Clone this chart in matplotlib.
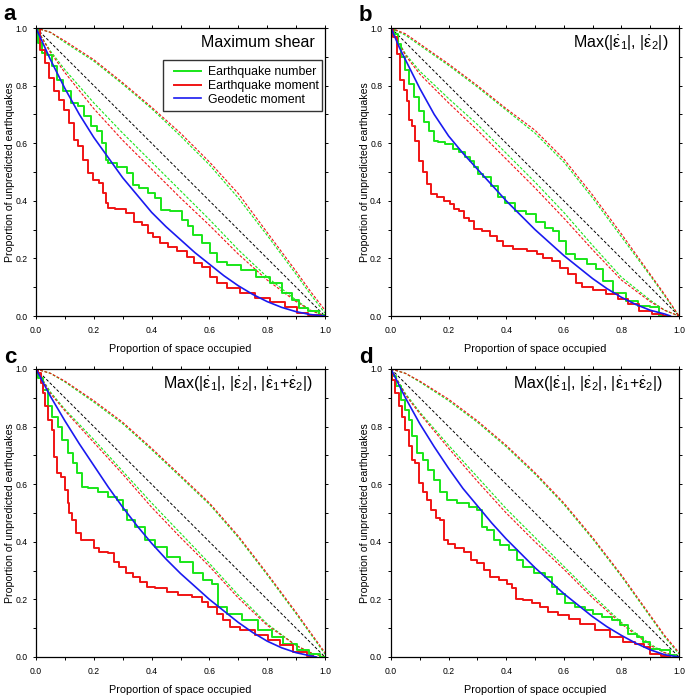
import matplotlib
matplotlib.use("Agg")
import matplotlib.pyplot as plt
from matplotlib.ticker import MultipleLocator
from matplotlib.patches import Rectangle

plt.rcParams['font.family'] = ['Liberation Sans', 'DejaVu Sans']
plt.rcParams['mathtext.fontset'] = 'custom'
plt.rcParams['mathtext.rm'] = 'Liberation Sans'
plt.rcParams['mathtext.it'] = 'Liberation Sans'

# ---- data ----
panel_letters = ["a", "b", "c", "d"]
e1 = r"$\dot{\varepsilon}_1$"
e2 = r"$\dot{\varepsilon}_2$"
panel_titles = ["Maximum shear",
                "Max(|" + e1 + "|, |" + e2 + "|)",
                "Max(|" + e1 + "|, |" + e2 + "|, |" + e1 + "+" + e2 + "|)",
                "Max(|" + e1 + "|, |" + e2 + "|, |" + e1 + "+" + e2 + "|)"]
legend_labels = ["Earthquake number", "Earthquake moment", "Geodetic moment"]

# panel a
a_mom_x = [0, 0.025, 0.037, 0.054, 0.072, 0.089, 0.106, 0.123, 0.141, 0.152, 0.170, 0.187, 0.210, 0.227, 0.239, 0.245, 0.256, 0.291, 0.331, 0.348, 0.383, 0.394, 0.417, 0.441, 0.475, 0.504, 0.539, 0.556, 0.590, 0.614, 0.637, 0.683, 0.729, 0.787, 0.833, 0.890, 0.913, 0.971, 1.0]
a_mom_y = [1, 0.925, 0.878, 0.826, 0.780, 0.751, 0.716, 0.670, 0.612, 0.589, 0.543, 0.497, 0.473, 0.461, 0.427, 0.392, 0.374, 0.371, 0.357, 0.328, 0.316, 0.287, 0.276, 0.252, 0.241, 0.224, 0.206, 0.183, 0.171, 0.137, 0.114, 0.096, 0.081, 0.064, 0.050, 0.032, 0.009, 0.003, 0.0]
a_num_x = [0, 0.014, 0.025, 0.048, 0.060, 0.083, 0.106, 0.135, 0.158, 0.175, 0.204, 0.221, 0.239, 0.245, 0.256, 0.302, 0.331, 0.337, 0.377, 0.400, 0.423, 0.441, 0.487, 0.521, 0.533, 0.556, 0.590, 0.614, 0.637, 0.683, 0.735, 0.787, 0.833, 0.867, 0.902, 0.919, 0.960, 1.0]
a_num_y = [1, 0.948, 0.913, 0.907, 0.867, 0.820, 0.780, 0.739, 0.728, 0.693, 0.658, 0.641, 0.600, 0.542, 0.531, 0.519, 0.496, 0.455, 0.444, 0.426, 0.409, 0.368, 0.363, 0.334, 0.311, 0.282, 0.253, 0.218, 0.189, 0.177, 0.160, 0.137, 0.114, 0.079, 0.056, 0.027, 0.019, 0.003]
a_geo_x = [0, 0.05, 0.1, 0.15, 0.2, 0.25, 0.3, 0.35, 0.4, 0.45, 0.5, 0.55, 0.6, 0.65, 0.7, 0.75, 0.8, 0.85, 0.9, 0.95, 1.0]
a_geo_y = [1, 0.89, 0.79, 0.70, 0.62, 0.55, 0.48, 0.42, 0.36, 0.31, 0.265, 0.22, 0.18, 0.14, 0.105, 0.075, 0.05, 0.03, 0.015, 0.005, 0.0]

# panel b
b_mom_x = [0, 0.015, 0.027, 0.038, 0.050, 0.061, 0.067, 0.079, 0.090, 0.102, 0.119, 0.130, 0.148, 0.171, 0.194, 0.217, 0.223, 0.246, 0.258, 0.281, 0.298, 0.333, 0.356, 0.379, 0.402, 0.448, 0.494, 0.517, 0.540, 0.575, 0.598, 0.633, 0.650, 0.679, 0.725, 0.771, 0.806, 0.841, 0.881, 0.933, 0.956]
b_mom_y = [1, 0.969, 0.911, 0.818, 0.783, 0.748, 0.679, 0.661, 0.609, 0.539, 0.499, 0.458, 0.423, 0.412, 0.400, 0.389, 0.371, 0.365, 0.342, 0.331, 0.302, 0.296, 0.278, 0.261, 0.244, 0.232, 0.226, 0.215, 0.203, 0.191, 0.168, 0.145, 0.116, 0.099, 0.089, 0.075, 0.058, 0.041, 0.017, 0.006, 0.0]
b_num_x = [0, 0.021, 0.027, 0.044, 0.055, 0.073, 0.090, 0.107, 0.125, 0.142, 0.154, 0.171, 0.206, 0.223, 0.252, 0.263, 0.286, 0.292, 0.309, 0.333, 0.361, 0.379, 0.413, 0.448, 0.488, 0.517, 0.552, 0.575, 0.592, 0.621, 0.656, 0.702, 0.725, 0.748, 0.794, 0.841, 0.875, 0.921, 0.939, 0.96]
b_num_y = [1, 0.980, 0.945, 0.899, 0.853, 0.806, 0.760, 0.713, 0.673, 0.644, 0.609, 0.603, 0.597, 0.580, 0.568, 0.551, 0.539, 0.516, 0.493, 0.481, 0.452, 0.412, 0.394, 0.365, 0.354, 0.325, 0.307, 0.296, 0.261, 0.215, 0.197, 0.180, 0.162, 0.122, 0.081, 0.052, 0.035, 0.031, 0.0, 0.0]
b_geo_x = [0, 0.03, 0.06, 0.1, 0.15, 0.2, 0.25, 0.3, 0.35, 0.4, 0.45, 0.5, 0.55, 0.6, 0.65, 0.7, 0.75, 0.8, 0.85, 0.9, 0.95, 0.97]
b_geo_y = [1, 0.93, 0.87, 0.79, 0.70, 0.625, 0.565, 0.51, 0.455, 0.40, 0.35, 0.30, 0.255, 0.21, 0.17, 0.13, 0.095, 0.065, 0.04, 0.02, 0.007, 0.0]

# panel c
c_mom_x = [0, 0.014, 0.020, 0.025, 0.037, 0.048, 0.060, 0.066, 0.077, 0.095, 0.106, 0.112, 0.118, 0.129, 0.146, 0.164, 0.198, 0.204, 0.233, 0.268, 0.273, 0.302, 0.320, 0.348, 0.371, 0.394, 0.429, 0.475, 0.510, 0.567, 0.579, 0.614, 0.637, 0.660, 0.683, 0.729, 0.787, 0.821, 0.867, 0.913, 0.960]
c_mom_y = [1, 0.986, 0.951, 0.916, 0.870, 0.824, 0.789, 0.696, 0.638, 0.626, 0.580, 0.534, 0.499, 0.476, 0.429, 0.406, 0.406, 0.377, 0.365, 0.360, 0.330, 0.313, 0.290, 0.278, 0.261, 0.244, 0.238, 0.226, 0.215, 0.209, 0.191, 0.174, 0.151, 0.128, 0.104, 0.093, 0.075, 0.058, 0.041, 0.017, 0.002]
c_num_x = [0, 0.014, 0.037, 0.048, 0.066, 0.083, 0.100, 0.118, 0.135, 0.152, 0.164, 0.198, 0.233, 0.268, 0.291, 0.308, 0.325, 0.360, 0.394, 0.429, 0.475, 0.521, 0.567, 0.590, 0.625, 0.637, 0.683, 0.740, 0.798, 0.833, 0.879, 0.925, 0.965, 1.0]
c_num_y = [1, 0.969, 0.928, 0.870, 0.835, 0.800, 0.754, 0.708, 0.673, 0.638, 0.592, 0.586, 0.574, 0.557, 0.545, 0.510, 0.475, 0.452, 0.406, 0.383, 0.348, 0.330, 0.290, 0.267, 0.255, 0.174, 0.151, 0.128, 0.093, 0.070, 0.046, 0.023, 0.012, 0.0]
c_geo_x = [0, 0.05, 0.1, 0.15, 0.2, 0.25, 0.3, 0.35, 0.4, 0.45, 0.5, 0.55, 0.6, 0.65, 0.7, 0.75, 0.8, 0.85, 0.9, 0.95, 0.97]
c_geo_y = [1, 0.905, 0.82, 0.74, 0.665, 0.59, 0.52, 0.455, 0.395, 0.34, 0.29, 0.245, 0.20, 0.16, 0.12, 0.085, 0.055, 0.032, 0.015, 0.004, 0.0]

# panel d
d_mom_x = [0, 0.009, 0.021, 0.032, 0.044, 0.055, 0.067, 0.079, 0.090, 0.102, 0.119, 0.131, 0.148, 0.165, 0.177, 0.188, 0.206, 0.235, 0.269, 0.287, 0.310, 0.333, 0.356, 0.391, 0.414, 0.425, 0.443, 0.472, 0.506, 0.529, 0.564, 0.599, 0.634, 0.680, 0.738, 0.784, 0.830, 0.865, 0.894, 0.905, 0.969]
d_mom_y = [1, 0.963, 0.916, 0.870, 0.835, 0.789, 0.731, 0.684, 0.673, 0.603, 0.574, 0.545, 0.510, 0.481, 0.476, 0.406, 0.394, 0.377, 0.365, 0.336, 0.325, 0.302, 0.278, 0.267, 0.255, 0.238, 0.203, 0.197, 0.186, 0.174, 0.157, 0.145, 0.133, 0.116, 0.093, 0.070, 0.052, 0.044, 0.035, 0.012, 0.002]
d_num_x = [0, 0.009, 0.027, 0.044, 0.055, 0.067, 0.079, 0.102, 0.119, 0.136, 0.160, 0.183, 0.206, 0.252, 0.287, 0.310, 0.321, 0.345, 0.368, 0.391, 0.425, 0.448, 0.472, 0.518, 0.552, 0.564, 0.587, 0.622, 0.657, 0.691, 0.714, 0.749, 0.784, 0.807, 0.842, 0.865, 0.888, 0.911, 0.957, 0.980, 1.0]
d_num_y = [1, 0.974, 0.940, 0.893, 0.858, 0.824, 0.766, 0.708, 0.684, 0.650, 0.615, 0.574, 0.545, 0.534, 0.522, 0.510, 0.452, 0.440, 0.406, 0.388, 0.371, 0.336, 0.313, 0.290, 0.278, 0.244, 0.220, 0.186, 0.174, 0.162, 0.151, 0.139, 0.128, 0.110, 0.081, 0.070, 0.052, 0.029, 0.023, 0.006, 0.0]
d_geo_x = [0, 0.05, 0.1, 0.15, 0.2, 0.25, 0.3, 0.35, 0.4, 0.45, 0.5, 0.55, 0.6, 0.65, 0.7, 0.75, 0.8, 0.85, 0.9, 0.95, 1.0]
d_geo_y = [1, 0.90, 0.81, 0.73, 0.655, 0.585, 0.525, 0.465, 0.41, 0.36, 0.31, 0.265, 0.22, 0.18, 0.14, 0.105, 0.075, 0.048, 0.025, 0.008, 0.0]

# dashed reference curves (upper / lower, green = number, red = moment)
dash_x = [0, 0.05, 0.1, 0.2, 0.3, 0.4, 0.5, 0.6, 0.7, 0.8, 0.9, 0.95, 1.0]
a_up_g = [1, 0.985, 0.95, 0.885, 0.805, 0.72, 0.625, 0.525, 0.41, 0.28, 0.145, 0.075, 0.01]
a_up_r = [1, 0.985, 0.955, 0.89, 0.81, 0.725, 0.635, 0.535, 0.425, 0.29, 0.155, 0.085, 0.02]
a_lo_g = [1, 0.92, 0.855, 0.74, 0.635, 0.535, 0.435, 0.335, 0.23, 0.135, 0.055, 0.02, 0.0]
a_lo_r = [1, 0.915, 0.845, 0.72, 0.61, 0.51, 0.41, 0.315, 0.215, 0.125, 0.05, 0.02, 0.0]
b_up_g = [1, 0.975, 0.94, 0.87, 0.795, 0.715, 0.635, 0.535, 0.41, 0.275, 0.14, 0.07, 0.0]
b_up_r = [1, 0.98, 0.945, 0.875, 0.8, 0.72, 0.645, 0.545, 0.42, 0.285, 0.145, 0.075, 0.0]
b_lo_g = [1, 0.91, 0.85, 0.755, 0.665, 0.565, 0.465, 0.36, 0.245, 0.135, 0.055, 0.02, 0.0]
b_lo_r = [1, 0.905, 0.84, 0.74, 0.645, 0.545, 0.445, 0.34, 0.23, 0.125, 0.05, 0.02, 0.0]
c_up_g = [1, 0.985, 0.955, 0.885, 0.81, 0.72, 0.625, 0.53, 0.415, 0.285, 0.15, 0.08, 0.01]
c_up_r = [1, 0.985, 0.958, 0.89, 0.815, 0.725, 0.63, 0.535, 0.42, 0.29, 0.155, 0.085, 0.015]
c_lo_g = [1, 0.92, 0.86, 0.755, 0.645, 0.535, 0.43, 0.325, 0.215, 0.115, 0.04, 0.015, 0.0]
c_lo_r = [1, 0.915, 0.855, 0.745, 0.635, 0.52, 0.415, 0.315, 0.205, 0.11, 0.04, 0.015, 0.0]
d_up_g = [1, 0.985, 0.955, 0.89, 0.815, 0.73, 0.635, 0.53, 0.41, 0.28, 0.14, 0.07, 0.01]
d_up_r = [1, 0.985, 0.958, 0.895, 0.82, 0.735, 0.64, 0.535, 0.415, 0.285, 0.145, 0.075, 0.015]
d_lo_g = [1, 0.915, 0.85, 0.735, 0.625, 0.515, 0.415, 0.315, 0.215, 0.12, 0.045, 0.015, 0.0]
d_lo_r = [1, 0.91, 0.845, 0.725, 0.61, 0.5, 0.4, 0.305, 0.205, 0.115, 0.04, 0.015, 0.0]

diag = [1, 0]

GREEN = "#19e619"
RED = "#f01414"
BLUE = "#1a1af0"

panels = [
    (a_num_x, a_num_y, a_mom_x, a_mom_y, a_geo_x, a_geo_y, a_up_g, a_up_r, a_lo_g, a_lo_r),
    (b_num_x, b_num_y, b_mom_x, b_mom_y, b_geo_x, b_geo_y, b_up_g, b_up_r, b_lo_g, b_lo_r),
    (c_num_x, c_num_y, c_mom_x, c_mom_y, c_geo_x, c_geo_y, c_up_g, c_up_r, c_lo_g, c_lo_r),
    (d_num_x, d_num_y, d_mom_x, d_mom_y, d_geo_x, d_geo_y, d_up_g, d_up_r, d_lo_g, d_lo_r),
]

W, H = 685, 695
fig = plt.figure(figsize=(W / 100, H / 100), dpi=100)

# axes boxes in pixels: left, top, right, bottom
boxes = [(36, 28, 325, 316), (391, 28, 679, 316), (36, 369, 325, 657), (391, 369, 679, 657)]
title_x = [0.965, 0.962, 0.958, 0.944]
letter_pos = [(3, 20), (359, 21), (4, 363), (359, 363)]

for i, (box, p) in enumerate(zip(boxes, panels)):
    l, t, r, b = box
    ax = fig.add_axes([l / W, 1 - b / H, (r - l) / W, (b - t) / H])
    nx, ny, mx, my, gx, gy, upg, upr, log_, lor = p

    ax.plot([0, 1], diag, color="k", lw=0.7, dashes=(3, 2))
    ax.plot(dash_x, upg, color=GREEN, lw=0.8, dashes=(2.5, 1.5))
    ax.plot(dash_x, upr, color=RED, lw=0.8, dashes=(2.5, 1.5))
    ax.plot(dash_x, log_, color=GREEN, lw=0.8, dashes=(2.5, 1.5))
    ax.plot(dash_x, lor, color=RED, lw=0.8, dashes=(2.5, 1.5))
    h1, = ax.plot(nx, ny, color=GREEN, lw=1.4, drawstyle="steps-mid")
    h2, = ax.plot(mx, my, color=RED, lw=1.4, drawstyle="steps-mid")
    h3, = ax.plot(gx, gy, color=BLUE, lw=1.2)

    ax.set_xlim(0, 1)
    ax.set_ylim(0, 1)
    ax.xaxis.set_major_locator(MultipleLocator(0.2))
    ax.yaxis.set_major_locator(MultipleLocator(0.2))
    ax.xaxis.set_minor_locator(MultipleLocator(0.1))
    ax.yaxis.set_minor_locator(MultipleLocator(0.1))
    ax.xaxis.set_major_formatter(plt.FormatStrFormatter("%.1f"))
    ax.yaxis.set_major_formatter(plt.FormatStrFormatter("%.1f"))
    ax.tick_params(which="both", direction="out", length=2.5, width=0.7,
                   top=True, right=True, labelsize=6.2, pad=4.5, colors="k")
    ax.tick_params(axis="y", which="both", pad=3.8)
    for s in ax.spines.values():
        s.set_linewidth(0.9)

    ax.set_xlabel("Proportion of space occupied", fontsize=7.8, labelpad=7)
    ax.set_ylabel("Proportion of unpredicted earthquakes", fontsize=7.6, labelpad=0)

    ax.text(title_x[i], 0.948, panel_titles[i], transform=ax.transAxes,
            ha="right", va="center", fontsize=11.5)

    if i == 0:
        # legend frame drawn separately so the padding matches the original
        ax.add_patch(Rectangle((0.4394, 0.7118), 0.5502, 0.1771, transform=ax.transAxes,
                               facecolor="white", edgecolor="#333333", lw=1.0, zorder=5))
        leg = ax.legend([h1, h2, h3], legend_labels, loc="upper left",
                        bbox_to_anchor=(0.4775, 0.868), fontsize=8.8,
                        frameon=False, borderpad=0, borderaxespad=0,
                        handlelength=2.2, handletextpad=0.55, labelspacing=0.15)
        leg.set_zorder(6)

    fig.text(letter_pos[i][0] / W, 1 - letter_pos[i][1] / H, panel_letters[i],
             fontsize=16, fontweight="bold", ha="left", va="baseline")

fig.savefig("out.png", dpi=100)
